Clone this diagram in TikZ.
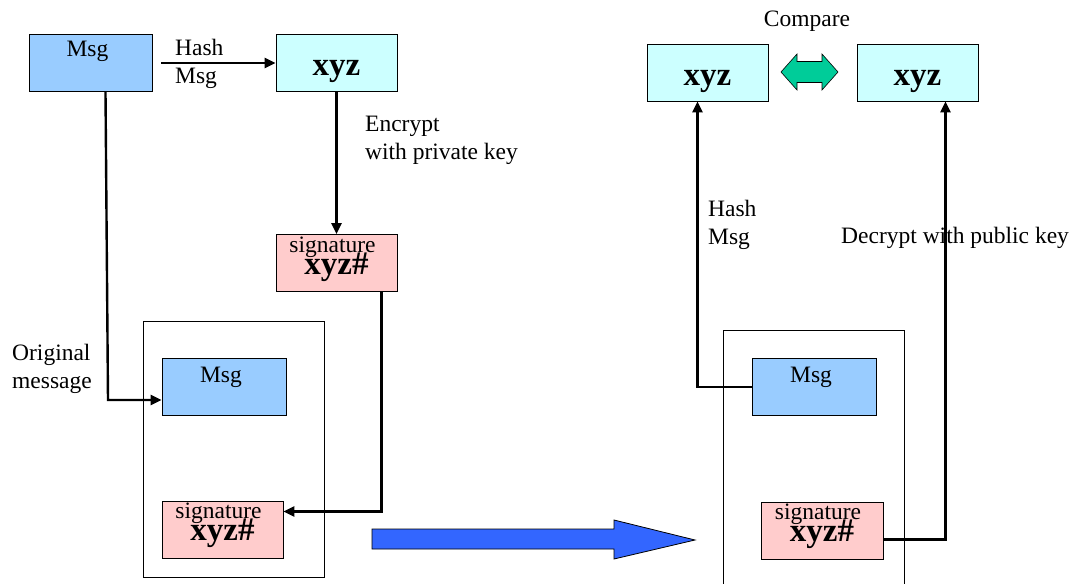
\documentclass[tikz,border=0pt]{standalone}
\usepackage{fontspec}
\setmainfont{Liberation Serif}
\usetikzlibrary{positioning,arrows.meta}
\definecolor{msgblue}{HTML}{99CCFF}
\definecolor{hashcyan}{HTML}{CCFFFF}
\definecolor{sigpink}{HTML}{FFCCCC}
\definecolor{sendblue}{HTML}{3366FF}
\definecolor{cmpgreen}{HTML}{00CC99}
\tikzset{>={Triangle[length=11pt,width=10pt]}}

\begin{document}
\begin{tikzpicture}[x=1pt,y=-1pt,
    box/.style={draw,line width=0.9pt,minimum width=121pt,minimum height=57pt,inner sep=0pt},
    msgbox/.style={box,fill=msgblue},
    hashbox/.style={box,fill=hashcyan},
    sigbox/.style={box,fill=sigpink},
    txt/.style={font=\fontsize{23.5}{28}\selectfont,inner sep=0pt,align=left},
    big/.style={font=\fontsize{33}{36}\selectfont\bfseries,inner sep=0pt},
    link/.style={line width=2.4pt,->}]
    \useasboundingbox (0,0) rectangle (1072,584);
    \node[msgbox,minimum width=123pt] (M1) at (90.5,63) {};
    \node[hashbox] (H1) at (336.5,63) {};
    \node[sigbox] (S1) at (336.5,263) {};
    \draw[line width=0.9pt] (143,321) rectangle (324,577);
    \node[msgbox,minimum width=124pt] (M2) at (224,387) {};
    \node[sigbox] (S2) at (222.5,529.5) {};
    \node[msgbox,minimum width=124pt] (M3) at (814,387) {};
    \node[sigbox,minimum width=122pt] (S3) at (822,530.5) {};
    \node[hashbox] (H3) at (707.5,72.5) {};
    \node[hashbox] (H4) at (917.5,72.5) {};
    \draw[line width=0.9pt] (723,584) |- (904,330) -- (904,584);
    \node[txt,anchor=base] (M1t) at ([xshift=-3pt,yshift=-22pt]M1.north) {Msg};
    \node[txt,anchor=base] (M2t) at ([xshift=-3pt,yshift=-24pt]M2.north) {Msg};
    \node[txt,anchor=base] (M3t) at ([xshift=-3pt,yshift=-24pt]M3.north) {Msg};
    \node[big,anchor=base] (H1t) at ([yshift=-41pt]H1.north) {xyz};
    \node[big,anchor=base] (H3t) at ([yshift=-42pt]H3.north) {xyz};
    \node[big,anchor=base] (H4t) at ([yshift=-42pt]H4.north) {xyz};
    \foreach \s in {S1,S2,S3}{
        \node[txt,anchor=base] (\s a) at ([xshift=-4pt,yshift=-18pt]\s.north) {signature};
        \node[big,anchor=base] (\s b) at ([yshift=-40pt]\s.north) {xyz\#};
    }
    \coordinate (B1) at (108,400);
    \draw[link] ([xshift=9pt]M1.east) -- (H1.west);
    \draw[link] (H1.south) -- (S1.north);
    \draw[link] ([xshift=15pt]M1.south) -- (B1) -- (B1 -| M2.west);
    \draw[link] ([xshift=45pt]S1.south) |- ([yshift=18pt]S2.east);
    \draw[link] (M3.west) -| ([xshift=-10pt]H3.south);
    \draw[link] ([yshift=-9pt]S3.east) -| ([xshift=28pt]H4.south);
    \draw[line width=0.8pt,fill=sendblue] (372,529) -- (614,529) -- (614,520) -- (695,540)
        -- (614,559) -- (614,549) -- (372,549) -- cycle;
    \draw[line width=0.6pt,fill=cmpgreen] (781,72) -- (797,54) -- (797,61.5) -- (822,61.5)
        -- (822,54) -- (838,72) -- (822,90) -- (822,82.5) -- (797,82.5) -- (797,90) -- cycle;
    \node[txt,anchor=north west] (L1) at (175,39) {Hash\\Msg};
    \node[txt,anchor=north west] (L2) at (365,116) {Encrypt\\with private key};
    \node[txt,anchor=north west] (L3) at (12,344) {Original\\message};
    \node[txt,anchor=base] (L4) at (807,26) {Compare};
    \node[txt,anchor=north west] (L5) at (708,200) {Hash\\Msg};
    \node[txt,anchor=base west] (L6) at (841,243) {Decrypt with public key};
\end{tikzpicture}
\end{document}
